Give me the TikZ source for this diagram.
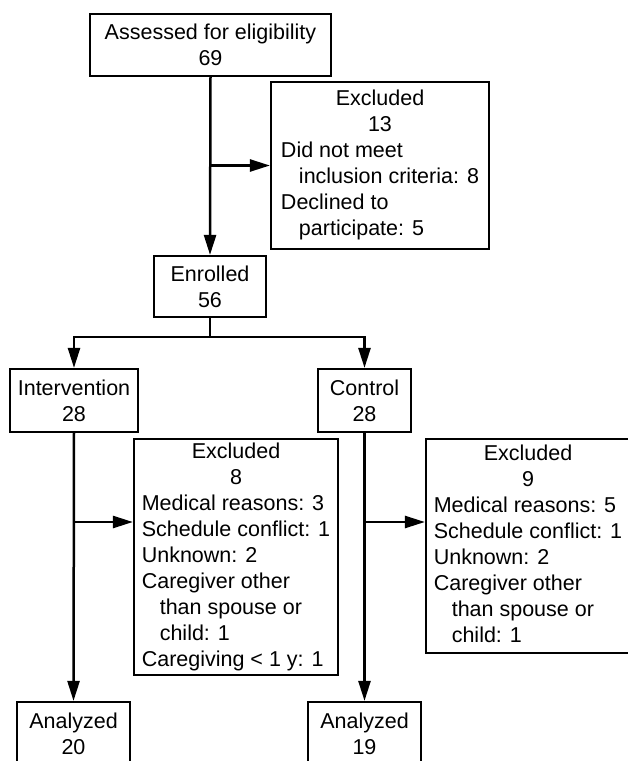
\documentclass[tikz,border=0pt]{standalone}
\usepackage{fontspec}
\setmainfont{Liberation Sans}
\usetikzlibrary{arrows.meta}

\newcommand\ctr[1]{\multicolumn{1}{@{}c@{}}{#1}}
\newcommand\indentln{\hspace*{18pt}}
\tikzset{
	box/.style={draw, line width=2.2pt, inner sep=0pt, align=center, font=\fontsize{21.5}{26}\selectfont},
	arr/.style={line width=2.5pt, -{Triangle[length=20pt,width=12pt]}},
	ln/.style={line width=2.5pt}
}

\begin{document}
\begin{tikzpicture}[x=1pt,y=-1pt]
		\useasboundingbox (0,0) rectangle (628,761);

		\node[box, minimum width=241pt, minimum height=62pt] (assess) at (210.5,45) {Assessed for eligibility\\69};
		\node[box, minimum width=218pt, minimum height=167pt] (exclA) at (380,165.5) {\begin{tabular}{@{}l@{}}
			\ctr{Excluded}\\ \ctr{13}\\ Did not meet\\ \indentln inclusion criteria: 8\\ Declined to\\ \indentln participate: 5
		\end{tabular}};
		\node[box, minimum width=112pt, minimum height=61pt] (enrol) at (210,286.5) {Enrolled\\56};

		\node[box, minimum width=128pt, minimum height=63pt] (interv) at (74,400.5) {Intervention\\28};
		\node[box, minimum width=93pt, minimum height=63pt] (ctrl) at (364.5,400.5) {Control\\28};

		\node[box, minimum width=204pt, minimum height=236pt] (exclB) at (236,557) {\begin{tabular}{@{}l@{}}
			\ctr{Excluded}\\ \ctr{8}\\ Medical reasons: 3\\ Schedule conflict: 1\\ Unknown: 2\\ Caregiver other\\ \indentln than spouse or\\ \indentln child: 1\\ Caregiving < 1 y: 1
		\end{tabular}};
		\node[box, minimum width=204pt, minimum height=214pt] (exclC) at (528,546) {\begin{tabular}{@{}l@{}}
			\ctr{Excluded}\\ \ctr{9}\\ Medical reasons: 5\\ Schedule conflict: 1\\ Unknown: 2\\ Caregiver other\\ \indentln than spouse or\\ \indentln child: 1
		\end{tabular}};

		\node[box, minimum width=113pt, minimum height=64pt] (anaA) at (73.5,734) {Analyzed\\20};
		\node[box, minimum width=113pt, minimum height=64pt] (anaB) at (364.5,734) {Analyzed\\19};

		% junctions
		\coordinate (jA) at (assess.south |- exclA.west);
		\coordinate (split) at (210,337);
		\coordinate (jB) at (interv.south |- 0,522);
		\coordinate (jC) at (ctrl.south |- 0,522);

		\draw[arr] (assess.south) -- (enrol.north);
		\draw[arr] (jA) -- (exclA.west);
		\draw[ln] (enrol.south) -- (split);
		\draw[arr] (split) -| (interv.north);
		\draw[arr] (split) -| (ctrl.north);

		\draw[arr] (interv.south) -- (anaA.north);
		\draw[arr] (jB) -- (exclB.west |- jB);
		\draw[arr] (ctrl.south) -- (anaB.north);
		\draw[arr] (jC) -- (exclC.west |- jC);
	\end{tikzpicture}
\end{document}
